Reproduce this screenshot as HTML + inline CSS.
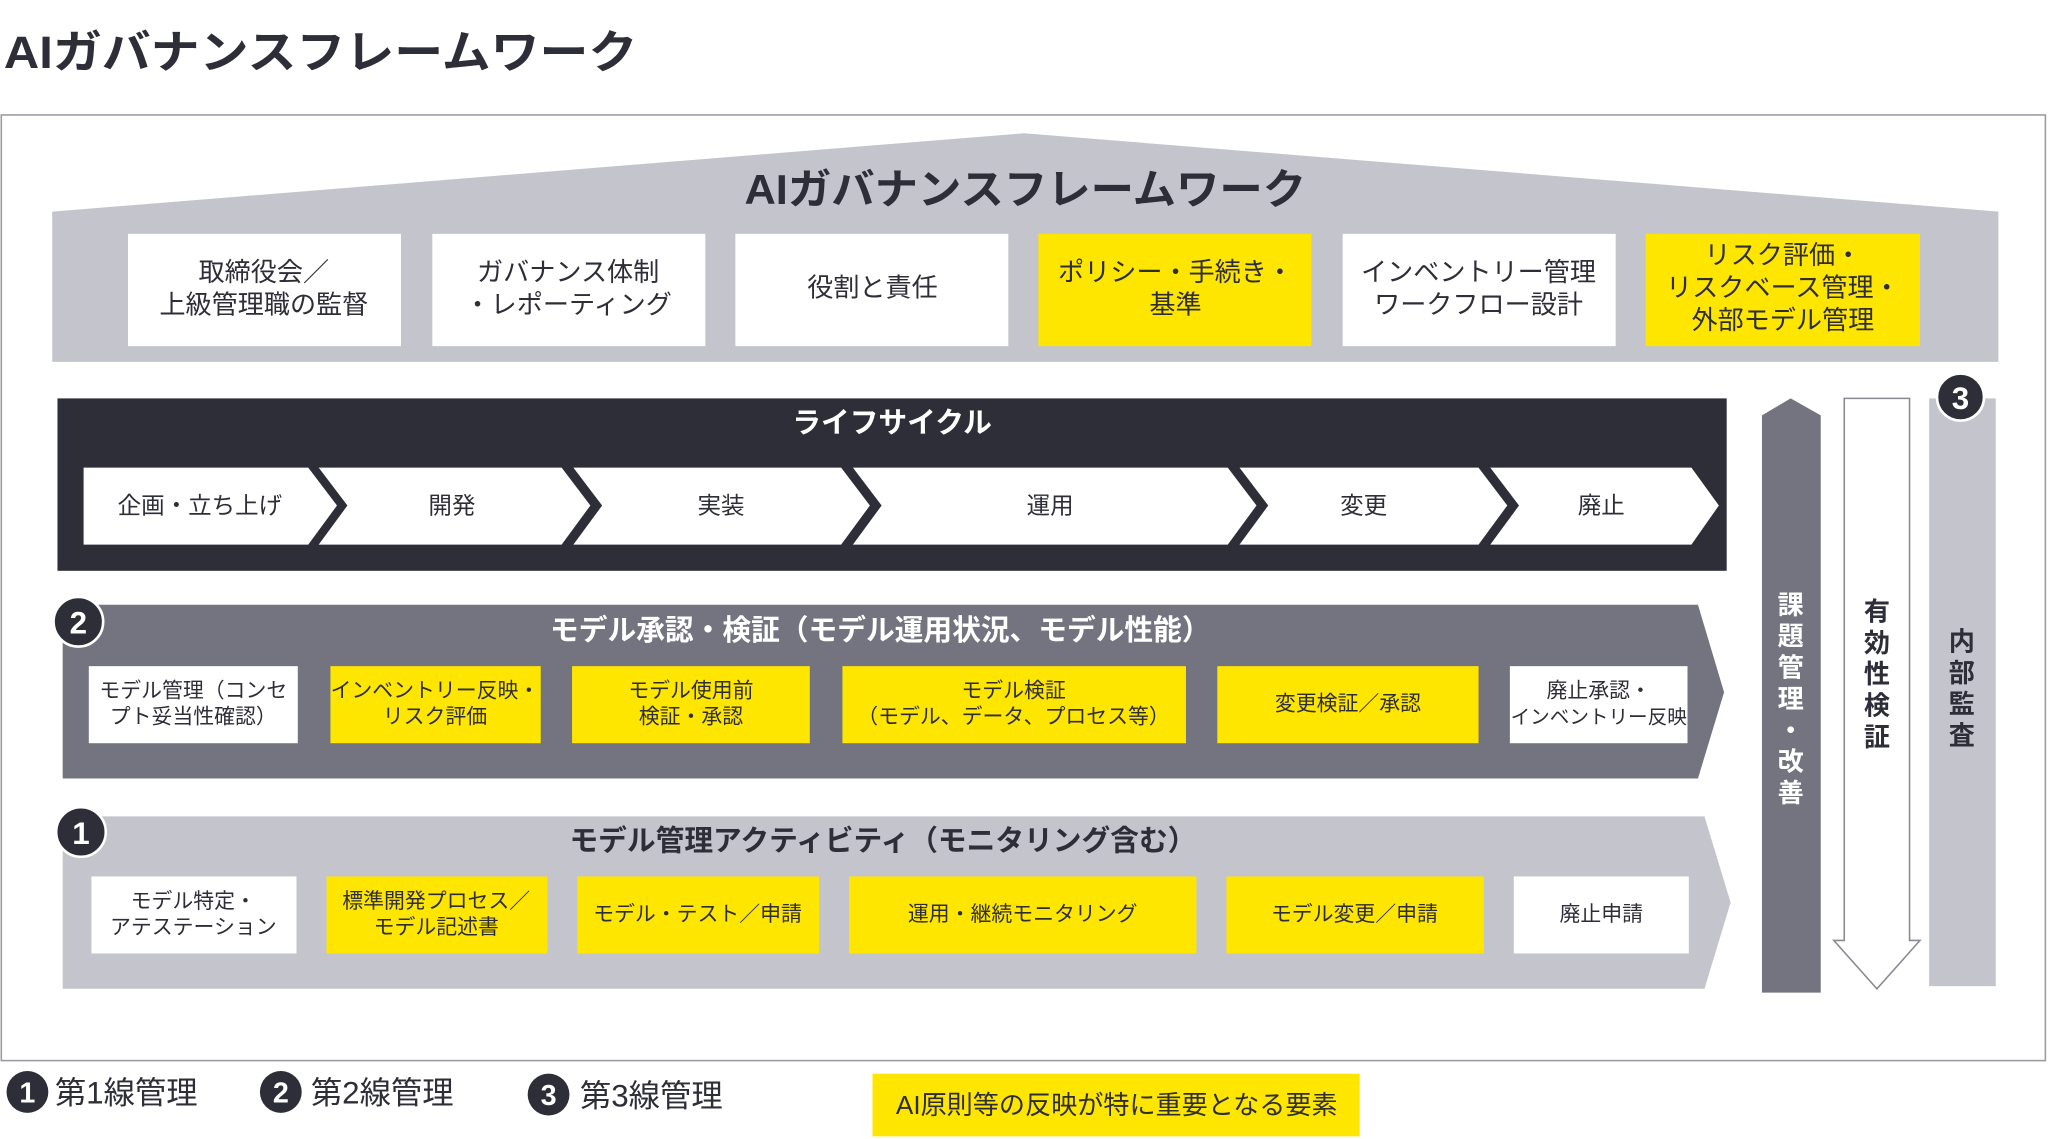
<!DOCTYPE html>
<html><head><meta charset="utf-8"><style>
html,body{margin:0;padding:0;background:#fff;}
svg{display:block;}
text{font-family:"Liberation Sans","Noto Sans CJK JP",sans-serif;}
</style></head><body>
<svg width="2048" height="1139" viewBox="0 0 1568 872" xmlns="http://www.w3.org/2000/svg">
<text x="3" y="52" font-size="35" font-weight="bold" fill="#2e2e38" textLength="485" lengthAdjust="spacingAndGlyphs">AIガバナンスフレームワーク</text>
<rect x="1" y="88" width="1565" height="724" fill="#fff" stroke="#9a9aa0" stroke-width="1.2"/>
<!-- roof -->
<polygon points="40,162 784,102 1530,162 1530,277 40,277" fill="#c4c4cc"/>
<text x="570" y="156" font-size="32" font-weight="bold" fill="#2e2e38" textLength="430" lengthAdjust="spacingAndGlyphs">AIガバナンスフレームワーク</text>
<g font-size="20" fill="#2e2e38" text-anchor="middle">
<rect x="98" y="179" width="209" height="86" fill="#fff"/>
<text x="202" y="215">取締役会／</text><text x="202" y="240">上級管理職の監督</text>
<rect x="331" y="179" width="209" height="86" fill="#fff"/>
<text x="435" y="215">ガバナンス体制</text><text x="435" y="240">・レポーティング</text>
<rect x="563" y="179" width="209" height="86" fill="#fff"/>
<text x="668" y="227">役割と責任</text>
<rect x="795" y="179" width="209" height="86" fill="#ffe600"/>
<text x="900" y="215">ポリシー・手続き・</text><text x="900" y="240">基準</text>
<rect x="1028" y="179" width="209" height="86" fill="#fff"/>
<text x="1132" y="215">インベントリー管理</text><text x="1132" y="240">ワークフロー設計</text>
<rect x="1260" y="179" width="210" height="86" fill="#ffe600"/>
<text x="1365" y="202">リスク評価・</text><text x="1365" y="227">リスクベース管理・</text><text x="1365" y="252">外部モデル管理</text>
</g>
<!-- lifecycle -->
<rect x="44" y="305" width="1278" height="132" fill="#2e2e38"/>
<text x="683" y="331" font-size="22" font-weight="bold" fill="#fff" text-anchor="middle">ライフサイクル</text>
<g fill="#fff">
<polygon points="64,358 236,358 258,387 236,417 64,417"/>
<polygon points="244,358 430,358 452,387 430,417 244,417 266,387"/>
<polygon points="439,358 644,358 666,387 644,417 439,417 461,387"/>
<polygon points="653,358 940,358 962,387 940,417 653,417 675,387"/>
<polygon points="949,358 1132,358 1154,387 1132,417 949,417 971,387"/>
<polygon points="1141,358 1295,358 1316,387 1295,417 1141,417 1163,387"/>
</g>
<g font-size="18" fill="#2e2e38" text-anchor="middle">
<text x="153" y="393">企画・立ち上げ</text>
<text x="346" y="393">開発</text>
<text x="552" y="393">実装</text>
<text x="804" y="393">運用</text>
<text x="1044" y="393">変更</text>
<text x="1226" y="393">廃止</text>
</g>
<!-- band 2 -->
<polygon points="48,463 1300,463 1320,530 1300,596 48,596" fill="#747480"/>
<text x="674" y="490" font-size="22" font-weight="bold" fill="#fff" text-anchor="middle">モデル承認・検証（モデル運用状況、モデル性能）</text>
<circle cx="60" cy="476" r="19" fill="#2e2e38" stroke="#fff" stroke-width="2"/>
<text x="60" y="485" font-size="24" font-weight="bold" fill="#fff" text-anchor="middle">2</text>
<g font-size="16" fill="#2e2e38" text-anchor="middle">
<rect x="68" y="510" width="160" height="59" fill="#fff"/>
<text x="148" y="534">モデル管理（コンセ</text><text x="148" y="554">プト妥当性確認）</text>
<rect x="253" y="510" width="161" height="59" fill="#ffe600"/>
<text x="333" y="534">インベントリー反映・</text><text x="333" y="554">リスク評価</text>
<rect x="438" y="510" width="182" height="59" fill="#ffe600"/>
<text x="529" y="534">モデル使用前</text><text x="529" y="554">検証・承認</text>
<rect x="645" y="510" width="263" height="59" fill="#ffe600"/>
<text x="776" y="534">モデル検証</text><text x="776" y="554">（モデル、データ、プロセス等）</text>
<rect x="932" y="510" width="200" height="59" fill="#ffe600"/>
<text x="1032" y="544">変更検証／承認</text>
<rect x="1156" y="510" width="136" height="59" fill="#fff"/>
<text x="1224" y="534">廃止承認・</text><text x="1224" y="554" font-size="15">インベントリー反映</text>
</g>
<!-- band 1 -->
<polygon points="48,625 1305,625 1325,691 1305,757 48,757" fill="#c4c4cc"/>
<text x="676" y="651" font-size="22" font-weight="bold" fill="#2e2e38" text-anchor="middle">モデル管理アクティビティ（モニタリング含む）</text>
<circle cx="62" cy="637" r="19" fill="#2e2e38" stroke="#fff" stroke-width="2"/>
<text x="62" y="646" font-size="24" font-weight="bold" fill="#fff" text-anchor="middle">1</text>
<g font-size="16" fill="#2e2e38" text-anchor="middle">
<rect x="70" y="671" width="157" height="59" fill="#fff"/>
<text x="148" y="695">モデル特定・</text><text x="148" y="715">アテステーション</text>
<rect x="250" y="671" width="169" height="59" fill="#ffe600"/>
<text x="334" y="695">標準開発プロセス／</text><text x="334" y="715">モデル記述書</text>
<rect x="442" y="671" width="185" height="59" fill="#ffe600"/>
<text x="534" y="705">モデル・テスト／申請</text>
<rect x="650" y="671" width="266" height="59" fill="#ffe600"/>
<text x="783" y="705">運用・継続モニタリング</text>
<rect x="939" y="671" width="197" height="59" fill="#ffe600"/>
<text x="1037" y="705">モデル変更／申請</text>
<rect x="1159" y="671" width="134" height="59" fill="#fff"/>
<text x="1226" y="705">廃止申請</text>
</g>
<!-- right bars -->
<polygon points="1349,318 1371,305 1394,318 1394,760 1349,760" fill="#747480"/>
<g font-size="20" font-weight="bold" fill="#fff" text-anchor="middle">
<text x="1371" y="470">課</text><text x="1371" y="494">題</text><text x="1371" y="518">管</text><text x="1371" y="542">理</text><text x="1371" y="566">・</text><text x="1371" y="590">改</text><text x="1371" y="614">善</text>
</g>
<polygon points="1412,305 1462,305 1462,720 1470,720 1437,757 1404,720 1412,720" fill="#fff" stroke="#8a8a92" stroke-width="1.2"/>
<g font-size="20" font-weight="bold" fill="#2e2e38" text-anchor="middle">
<text x="1437" y="475">有</text><text x="1437" y="499">効</text><text x="1437" y="523">性</text><text x="1437" y="547">検</text><text x="1437" y="571">証</text>
</g>
<rect x="1477" y="305" width="51" height="450" fill="#c4c4cc"/>
<g font-size="20" font-weight="bold" fill="#2e2e38" text-anchor="middle">
<text x="1502" y="498">内</text><text x="1502" y="522">部</text><text x="1502" y="546">監</text><text x="1502" y="570">査</text>
</g>
<circle cx="1501" cy="304" r="18" fill="#2e2e38" stroke="#fff" stroke-width="2"/>
<text x="1501" y="313" font-size="24" font-weight="bold" fill="#fff" text-anchor="middle">3</text>
<!-- legend -->
<g font-weight="bold" fill="#fff" text-anchor="middle" font-size="22">
<circle cx="21" cy="836" r="16" fill="#2e2e38"/><text x="21" y="844">1</text>
<circle cx="215" cy="836" r="16" fill="#2e2e38"/><text x="215" y="844">2</text>
<circle cx="420" cy="838" r="16" fill="#2e2e38"/><text x="420" y="846">3</text>
</g>
<g font-size="24" fill="#2e2e38">
<text x="42" y="845">第1線管理</text>
<text x="238" y="845">第2線管理</text>
<text x="444" y="847">第3線管理</text>
</g>
<rect x="668" y="822" width="373" height="48" fill="#ffe600"/>
<text x="855" y="853" font-size="20" fill="#2e2e38" text-anchor="middle">AI原則等の反映が特に重要となる要素</text>
</svg>
</body></html>
